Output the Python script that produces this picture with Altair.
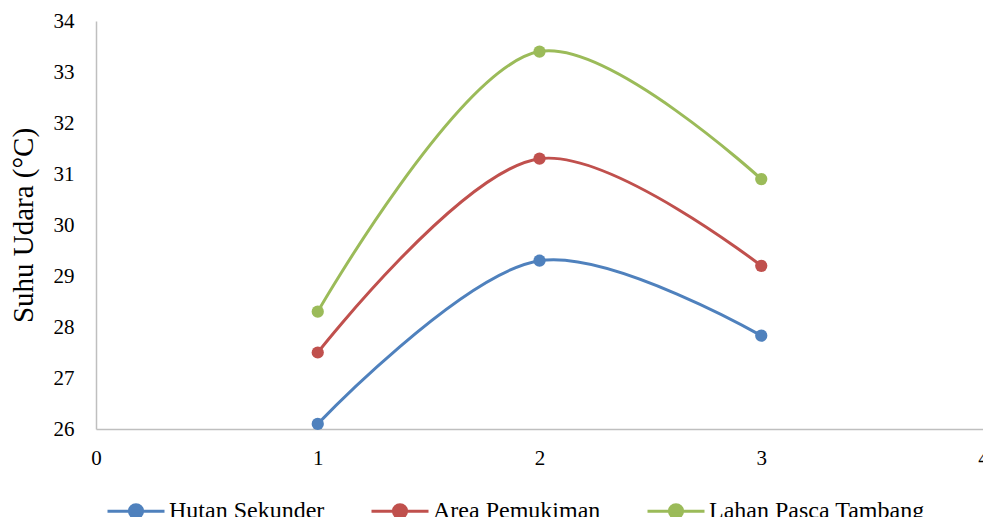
import altair as alt
import pandas as pd

series = ["Hutan Sekunder", "Area Pemukiman", "Lahan Pasca Tambang"]
colors = ["#4F81BD", "#C0504D", "#9BBB59"]
x_vals = [1, 2, 3]
hutan = [26.1, 29.3, 27.83]
area = [27.5, 31.3, 29.2]
lahan = [28.3, 33.4, 30.9]

rows = []
for name, vals in zip(series, [hutan, area, lahan]):
    for x, v in zip(x_vals, vals):
        rows.append({"Seri": name, "x": x, "y": v})
df = pd.DataFrame(rows)

FONT = "Liberation Serif"
color = alt.Color(
    "Seri:N",
    scale=alt.Scale(domain=series, range=colors),
    sort=series,
    legend=alt.Legend(
        title=None,
        orient="none",
        direction="horizontal",
        legendX=10,
        legendY=460,
        padding=0,
        symbolType="M -1 0 L 1 0 M -0.23 0 A 0.23 0.23 0 1 1 0.23 0 A 0.23 0.23 0 1 1 -0.23 0 Z",
        symbolSize=3249,
        symbolStrokeWidth=3,
        labelFont=FONT,
        labelFontSize=24,
        labelColor="#000000",
        labelOffset=3,
        labelLimit=500,
        columnPadding=40,
    ),
)

x = alt.X(
    "x:Q",
    scale=alt.Scale(domain=[0, 4], nice=False),
    axis=alt.Axis(
        title=None, values=[0, 1, 2, 3, 4], format="d", grid=False, ticks=False,
        labelFont=FONT, labelFontSize=21, labelColor="#000000", labelPadding=18,
        domainColor="#BFBFBF", domainWidth=1.5, labelFlush=False, labelOverlap=False,
    ),
)
y = alt.Y(
    "y:Q",
    scale=alt.Scale(domain=[26, 34], nice=False, zero=False),
    axis=alt.Axis(
        title="Suhu Udara (°C)", values=list(range(26, 35)), grid=False, ticks=False,
        labelFont=FONT, labelFontSize=21, labelColor="#000000", labelPadding=22,
        domainColor="#BFBFBF", domainWidth=1.5,
        titleFont=FONT, titleFontSize=29, titleFontWeight="normal", titleColor="#000000",
        titlePadding=15,
    ),
)

base = alt.Chart(df)
lines = base.mark_line(interpolate="catmull-rom", strokeWidth=3).encode(x=x, y=y, color=color)
points = base.mark_point(filled=True, size=150, opacity=1).encode(x=x, y=y, color=color)

chart = (
    alt.layer(lines, points)
    .properties(
        width=887,
        height=408,
        autosize=alt.AutoSizeParams(type="none"),
        padding={"left": 88, "top": 13, "right": 0, "bottom": 88},
        background="#FFFFFF",
    )
    .configure_view(stroke=None)
)

chart.save("out.html", embed_options={"renderer": "svg", "actions": False})
